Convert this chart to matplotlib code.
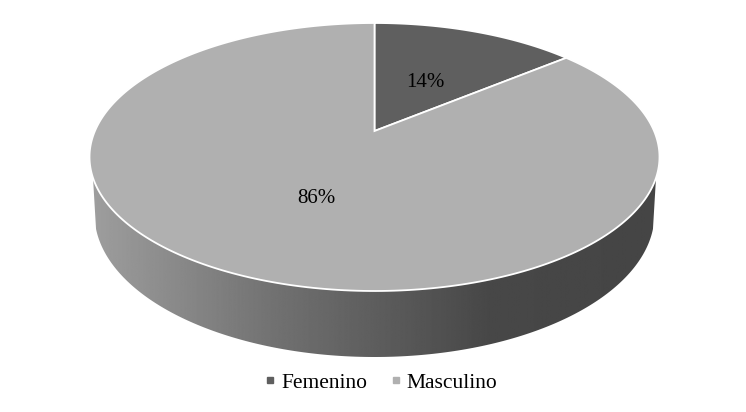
import numpy as np
import matplotlib
matplotlib.use("Agg")
import matplotlib.pyplot as plt
from matplotlib.patches import Polygon
from matplotlib.lines import Line2D

plt.rcParams['font.family'] = ['Liberation Serif', 'DejaVu Serif']

labels = ['Femenino', 'Masculino']
values = [14, 86]
colors = ['#5f5f5f', '#b0b0b0']

W, H = 746, 412
# top ellipse and the tilt of the pie in pixels
cx, cy, rx, ry = 374.5, 157, 285, 134
apex_y = 131
k = (cy - apex_y) / ry


def project(theta):
    # theta clockwise from 12 o'clock, the centre gets pushed back by the perspective
    x = np.sin(theta)
    y = np.cos(theta)
    d = 1 + k * y
    px = x * np.sqrt(1 - k ** 2) / d
    py = (y + k) / d
    return cx + rx * px, cy - ry * py


fig = plt.figure(figsize=(W / 100, H / 100), dpi=100)
ax = fig.add_axes([0, 0, 1, 1])
ax.set_xlim(0, W)
ax.set_ylim(H, 0)
ax.axis('off')

# side wall: bottom ellipse joined to the lower half of the top one
bcx, bcy, brx, bry = 374.5, 214, 280, 143
top_t = np.linspace(np.radians(171), np.radians(9), 200)
bot_t = np.linspace(np.radians(6), np.radians(174), 200)
wall_x = np.r_[cx + rx * np.cos(top_t), bcx + brx * np.cos(bot_t)]
wall_y = np.r_[cy + ry * np.sin(top_t), bcy + bry * np.sin(bot_t)]
wall = Polygon(np.c_[wall_x, wall_y], closed=True, fc='none', ec='none')
ax.add_patch(wall)
grad = np.interp(np.linspace(0, 1, 600), [0, 0.333, 0.70, 1], [0.62, 0.44, 0.28, 0.27])
im = ax.imshow(grad[None, :], extent=[90, 660, 360, 150], cmap='gray', vmin=0, vmax=1,
               aspect='auto', zorder=1)
im.set_clip_path(wall)
ax.set_xlim(0, W)
ax.set_ylim(H, 0)

# slices, drawn clockwise from the top
edges = np.cumsum([0] + values) / sum(values) * 2 * np.pi
for i in range(len(values)):
    th = np.linspace(edges[i], edges[i + 1], 300)
    xs, ys = project(th)
    pts = np.c_[np.r_[cx, xs], np.r_[apex_y, ys]]
    ax.add_patch(Polygon(pts, closed=True, fc=colors[i], ec='white', lw=1.3,
                         joinstyle='miter', zorder=2))

ax.text(425.5, 82, '14%', fontsize=15, color='black', ha='center', va='center', zorder=3)
ax.text(316, 198, '86%', fontsize=15, color='black', ha='center', va='center', zorder=3)

handles = [Line2D([], [], ls='none', marker='s', ms=4.6, mfc=c, mec=c) for c in colors]
ax.legend(handles, labels, ncol=2, frameon=False, fontsize=15.5, loc='center',
          bbox_to_anchor=(379, 382.5), bbox_transform=ax.transData,
          handletextpad=0.07, columnspacing=0.86, handlelength=0.9,
          labelcolor='black', borderpad=0)

fig.savefig('out.png', dpi=100, facecolor='white')
